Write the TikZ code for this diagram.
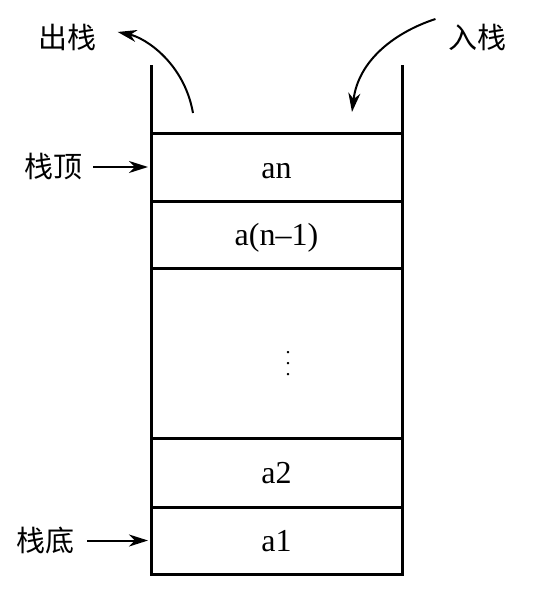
\documentclass[tikz,border=0pt]{standalone}
\usepackage{fontspec}
\setmainfont{Liberation Serif}
\newfontfamily\cjk{Noto Sans CJK SC}
\usetikzlibrary{positioning,arrows.meta}

\tikzset{
  cell/.style={draw, line width=3pt, minimum width=251pt, inner sep=0pt, outer sep=0pt,
    text height=26pt, text depth=4pt, font=\fontsize{32}{38}\selectfont},
  lbl/.style={font=\cjk\fontsize{29}{34}\selectfont, inner sep=0pt},
  wall/.style={line width=3pt},
  ptr/.style={line width=2pt, -{Stealth[length=19pt,width=12pt,inset=6pt]}},
}

\begin{document}
\begin{tikzpicture}[x=1pt,y=-1pt]
\useasboundingbox (0,0) rectangle (534,589);
% cells
\node[cell, minimum height=68pt] (an) at (276.5,167) {an};
\node[cell, minimum height=67pt, below=0pt of an] (an1) {a(n–1)};
\node[cell, minimum height=170pt, below=0pt of an1] (mid) {};
\node[cell, minimum height=69pt, below=0pt of mid] (a2) {a2};
\node[cell, minimum height=67pt, below=0pt of a2] (a1) {a1};
\node[font=\fontsize{20}{11}\selectfont, inner sep=0pt] (dots) at (288,364)
  {\vbox{\baselineskip11pt\lineskiplimit0pt\hbox{.}\hbox{.}\hbox{.}}};

% walls
\draw[wall] (an.north west) -- ++(0,-68);
\draw[wall] (an.north east) -- ++(0,-68);

% labels
\node[lbl] (pop) at (67,37) {出栈};
\node[lbl] (push) at (477,37) {入栈};
\node[lbl, left=68pt of an] (top) {栈顶};
\node[lbl, left=76pt of a1] (bottom) {栈底};
\coordinate (popfrom) at (193,113);
\coordinate (pushto) at (352,112);

% edges
\draw[ptr, shorten <=10pt, shorten >=3pt] (top) -- (an.west);
\draw[ptr, shorten <=12pt, shorten >=3pt] (bottom) -- (a1.west);
\draw[ptr, shorten >=22pt] (popfrom) to[out=100,in=-12] ([yshift=9.6pt]pop.east);
\draw[ptr, shorten <=13pt] ([yshift=22pt]push.west) to[out=-162,in=83] (pushto);
\end{tikzpicture}
\end{document}
